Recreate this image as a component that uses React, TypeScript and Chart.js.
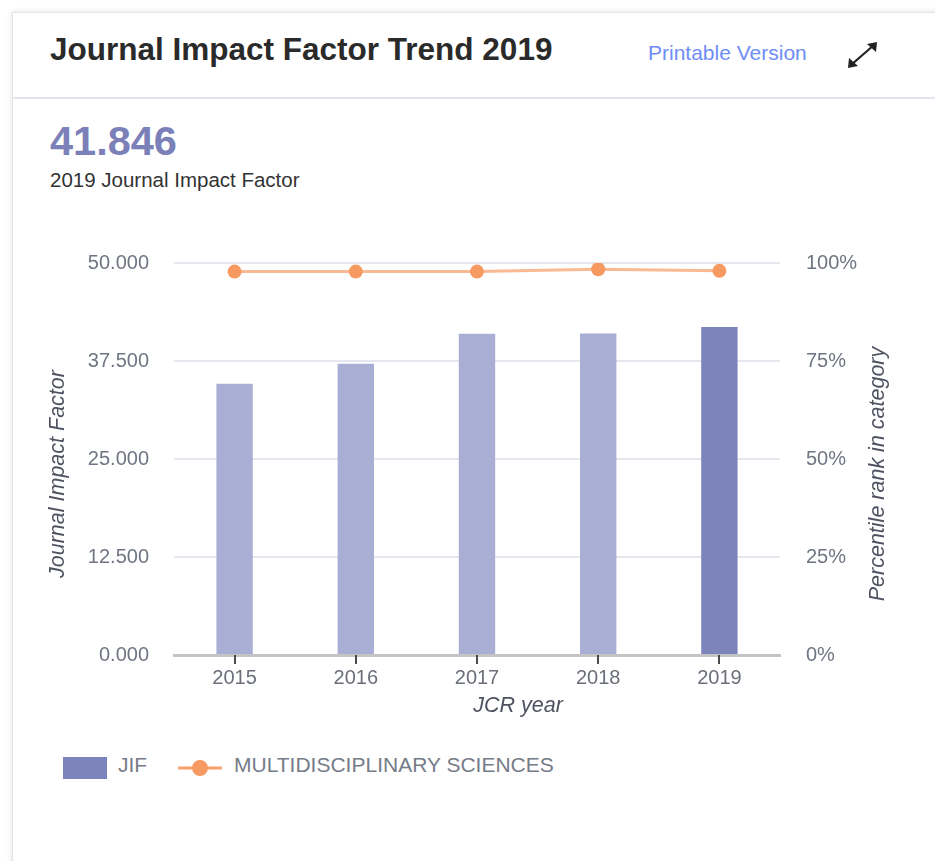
import React, { useEffect, useRef } from "react";
import { Chart, registerables } from "chart.js";

Chart.register(...registerables);

const years = ["2015", "2016", "2017", "2018", "2019"];
const jifValues = [34.6, 37.15, 40.97, 41.0, 41.846];
const percentileValues = [97.8, 97.8, 97.8, 98.4, 98.0];
const barColors = ["#a9aed5", "#a9aed5", "#a9aed5", "#a9aed5", "#7c84bb"];
const jifTicks = [0, 12.5, 25, 37.5, 50];
const pctTicks = [0, 25, 50, 75, 100];

const FONT = "'Liberation Sans', Arial, Helvetica, sans-serif";
const CANVAS_TOP = 225;

// Draws axis titles (offset like the original widget) and the x tick marks.
const axisDecorPlugin = {
  id: "axisDecor",
  afterDraw(chart: any) {
    const ctx = chart.ctx;
    const xs = chart.scales.x;
    const area = chart.chartArea;
    // tick marks at category centres
    ctx.save();
    ctx.strokeStyle = "#4a4a4a";
    ctx.lineWidth = 2;
    xs.ticks.forEach((_t: any, i: number) => {
      const px = Math.round(xs.getPixelForTick(i)) + 0.0;
      ctx.beginPath();
      ctx.moveTo(px, area.bottom);
      ctx.lineTo(px, area.bottom + 9);
      ctx.stroke();
    });
    ctx.restore();

    const titleFont = "italic 21.5px " + FONT;
    const midY = 474 - CANVAS_TOP;
    const drawRot = (text: string, x: number) => {
      ctx.save();
      ctx.translate(x, midY);
      ctx.rotate(-Math.PI / 2);
      ctx.font = titleFont;
      ctx.fillStyle = "#4f5361";
      ctx.textAlign = "center";
      ctx.textBaseline = "middle";
      ctx.fillText(text, 0, 0);
      ctx.restore();
    };
    drawRot(chart.scales.y.options.title.text, 58);
    drawRot(chart.scales.y1.options.title.text, 878);

    ctx.save();
    ctx.font = titleFont;
    ctx.fillStyle = "#4f5361";
    ctx.textAlign = "center";
    ctx.textBaseline = "middle";
    ctx.fillText(xs.options.title.text, 518, 706 - CANVAS_TOP);
    ctx.restore();
  },
};

export default function App() {
  const ref = useRef<HTMLCanvasElement | null>(null);

  useEffect(() => {
    if (!ref.current) return;
    const chart = new Chart(ref.current, {
      type: "bar",
      data: {
        labels: years,
        datasets: [
          {
            type: "line",
            label: "MULTIDISCIPLINARY SCIENCES",
            data: percentileValues,
            yAxisID: "y1",
            borderColor: "rgba(247,158,106,0.72)",
            borderWidth: 3,
            pointBackgroundColor: "#f69a62",
            pointBorderColor: "#f69a62",
            pointRadius: 7,
            pointBorderWidth: 0,
            tension: 0,
            order: 0,
          } as any,
          {
            type: "bar",
            label: "JIF",
            data: jifValues,
            yAxisID: "y",
            backgroundColor: barColors,
            borderWidth: 0,
            barPercentage: 0.3,
            categoryPercentage: 1,
            order: 1,
          } as any,
        ],
      },
      options: {
        animation: false,
        responsive: false,
        maintainAspectRatio: false,
        layout: { padding: { top: 24, left: 0, right: 0, bottom: 0 } },
        plugins: {
          legend: { display: false },
          tooltip: { enabled: false },
        },
        scales: {
          x: {
            grid: {
              offset: false,
              drawOnChartArea: false,
              drawTicks: false,
            },
            border: { display: true, color: "#c4c4c4", width: 3 },
            ticks: { color: "#6a6f7a", font: { family: FONT, size: 20 }, padding: 11 },
            title: {
              display: false,
              text: "JCR year",
            },
            afterFit: (s: any) => {
              s.height = 75;
            },
          },
          y: {
            position: "left",
            min: 0,
            max: 50,
            afterBuildTicks: (s: any) => {
              s.ticks = jifTicks.map((v) => ({ value: v }));
            },
            grid: { color: "#e6e6ef", lineWidth: 2, drawTicks: false },
            border: { display: false },
            ticks: {
              color: "#6f7583",
              font: { family: FONT, size: 20 },
              padding: 25,
              callback: (v: any) => Number(v).toFixed(3),
            },
            title: {
              display: false,
              text: "Journal Impact Factor",
            },
            afterFit: (s: any) => {
              s.width = 174;
            },
          },
          y1: {
            position: "right",
            min: 0,
            max: 100,
            afterBuildTicks: (s: any) => {
              s.ticks = pctTicks.map((v) => ({ value: v }));
            },
            grid: { drawOnChartArea: false, drawTicks: false },
            border: { display: false },
            ticks: {
              color: "#6f7583",
              font: { family: FONT, size: 20 },
              padding: 26,
              callback: (v: any) => v + "%",
            },
            title: {
              display: false,
              text: "Percentile rank in category",
            },
            afterFit: (s: any) => {
              s.width = 155;
            },
          },
        },
      },
      plugins: [axisDecorPlugin],
    });
    return () => chart.destroy();
  }, []);

  return (
    <div
      style={{
        position: "absolute",
        left: 0,
        top: 0,
        width: 935,
        height: 861,
        background: "#ffffff",
        overflow: "hidden",
        fontFamily: FONT,
      }}
    >
      <div
        style={{
          position: "absolute",
          left: 12,
          top: 12,
          width: 1000,
          height: 900,
          background: "#fff",
          border: "1px solid #e3e3e8",
          boxShadow: "0 0 6px rgba(0,0,0,0.12)",
        }}
      />
      <div
        style={{
          position: "absolute",
          left: 13,
          top: 97,
          width: 1000,
          height: 2,
          background: "#e4e4ec",
        }}
      />
      <div
        style={{
          position: "absolute",
          left: 50,
          top: 31,
          fontSize: 31.5,
          lineHeight: "36px",
          fontWeight: "bold",
          color: "#2a2a2a",
          whiteSpace: "nowrap",
        }}
      >
        Journal Impact Factor Trend 2019
      </div>
      <div
        style={{
          position: "absolute",
          left: 648,
          top: 41,
          fontSize: 21,
          lineHeight: "24px",
          color: "#6f8df6",
          whiteSpace: "nowrap",
        }}
      >
        Printable Version
      </div>
      <svg
        style={{ position: "absolute", left: 845, top: 39 }}
        width={36}
        height={32}
        viewBox="0 0 36 32"
      >
        <line x1="6" y1="26" x2="29" y2="6" stroke="#222" strokeWidth="2.2" />
        <polygon points="3,29 4,19 13,27" fill="#222" />
        <polygon points="32,3 31,13 22,5" fill="#222" />
      </svg>
      <div
        style={{
          position: "absolute",
          left: 50,
          top: 117,
          fontSize: 41.5,
          lineHeight: "48px",
          fontWeight: "bold",
          color: "#7b80b8",
          whiteSpace: "nowrap",
        }}
      >
        41.846
      </div>
      <div
        style={{
          position: "absolute",
          left: 50,
          top: 168,
          fontSize: 20.5,
          lineHeight: "24px",
          color: "#333",
          whiteSpace: "nowrap",
        }}
      >
        2019 Journal Impact Factor
      </div>
      <canvas
        ref={ref}
        width={935}
        height={505}
        style={{ position: "absolute", left: 0, top: CANVAS_TOP, width: 935, height: 505 }}
      />
      <div
        style={{
          position: "absolute",
          left: 63,
          top: 757,
          width: 44,
          height: 22,
          background: "#7c84bb",
        }}
      />
      <div
        style={{
          position: "absolute",
          left: 118,
          top: 753,
          fontSize: 21,
          lineHeight: "24px",
          color: "#767b88",
          whiteSpace: "nowrap",
        }}
      >
        JIF
      </div>
      <svg style={{ position: "absolute", left: 176, top: 757 }} width={50} height={22}>
        <line x1="2" y1="11" x2="46" y2="11" stroke="#f7a06e" strokeWidth="3" />
        <circle cx="24" cy="11" r="8" fill="#f69a62" />
      </svg>
      <div
        style={{
          position: "absolute",
          left: 234,
          top: 753,
          fontSize: 21,
          lineHeight: "24px",
          color: "#767b88",
          whiteSpace: "nowrap",
        }}
      >
        MULTIDISCIPLINARY SCIENCES
      </div>
    </div>
  );
}
